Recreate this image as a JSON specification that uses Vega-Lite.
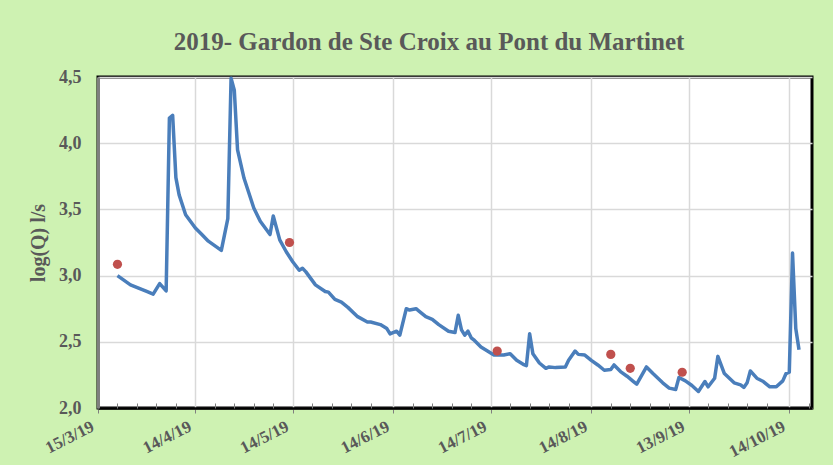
{
  "$schema": "https://vega.github.io/schema/vega-lite/v6.json",
  "width": 714,
  "height": 331,
  "autosize": {"type": "none"},
  "padding": {"left": 98, "top": 77, "right": 21, "bottom": 57},
  "background": "#cef2b2",
  "title": {
    "text": "2019- Gardon de Ste Croix au Pont du Martinet",
    "font": "Liberation Serif",
    "fontSize": 25,
    "fontWeight": "bold",
    "color": "#595959",
    "offset": 13,
    "dx": -26
  },
  "config": {
    "view": {"fill": "white", "stroke": "black", "strokeWidth": 3}
  },
  "datasets": {
    "flow": [
      {"date": "2019-03-21T00:00:00", "v": 3.00},
      {"date": "2019-03-25T00:00:00", "v": 2.93},
      {"date": "2019-03-30T00:00:00", "v": 2.88},
      {"date": "2019-04-01T00:00:00", "v": 2.86},
      {"date": "2019-04-03T00:00:00", "v": 2.94},
      {"date": "2019-04-05T00:00:00", "v": 2.885},
      {"date": "2019-04-06T00:00:00", "v": 4.19},
      {"date": "2019-04-07T00:00:00", "v": 4.21},
      {"date": "2019-04-08T00:00:00", "v": 3.74},
      {"date": "2019-04-09T00:00:00", "v": 3.61},
      {"date": "2019-04-11T00:00:00", "v": 3.46},
      {"date": "2019-04-14T00:00:00", "v": 3.36},
      {"date": "2019-04-16T00:00:00", "v": 3.31},
      {"date": "2019-04-18T00:00:00", "v": 3.26},
      {"date": "2019-04-22T00:00:00", "v": 3.19},
      {"date": "2019-04-24T00:00:00", "v": 3.43},
      {"date": "2019-04-25T00:00:00", "v": 4.49},
      {"date": "2019-04-26T00:00:00", "v": 4.40},
      {"date": "2019-04-27T00:00:00", "v": 3.95},
      {"date": "2019-04-29T00:00:00", "v": 3.735},
      {"date": "2019-05-02T00:00:00", "v": 3.51},
      {"date": "2019-05-04T00:00:00", "v": 3.41},
      {"date": "2019-05-07T00:00:00", "v": 3.31},
      {"date": "2019-05-08T00:00:00", "v": 3.45},
      {"date": "2019-05-10T00:00:00", "v": 3.27},
      {"date": "2019-05-12T00:00:00", "v": 3.18},
      {"date": "2019-05-14T00:00:00", "v": 3.105},
      {"date": "2019-05-16T00:00:00", "v": 3.04},
      {"date": "2019-05-17T00:00:00", "v": 3.055},
      {"date": "2019-05-18T00:00:00", "v": 3.03},
      {"date": "2019-05-21T00:00:00", "v": 2.93},
      {"date": "2019-05-24T00:00:00", "v": 2.88},
      {"date": "2019-05-25T00:00:00", "v": 2.875},
      {"date": "2019-05-27T00:00:00", "v": 2.82},
      {"date": "2019-05-29T00:00:00", "v": 2.80},
      {"date": "2019-05-31T00:00:00", "v": 2.76},
      {"date": "2019-06-03T00:00:00", "v": 2.69},
      {"date": "2019-06-06T00:00:00", "v": 2.65},
      {"date": "2019-06-07T00:00:00", "v": 2.65},
      {"date": "2019-06-10T00:00:00", "v": 2.63},
      {"date": "2019-06-12T00:00:00", "v": 2.60},
      {"date": "2019-06-13T00:00:00", "v": 2.56},
      {"date": "2019-06-15T00:00:00", "v": 2.58},
      {"date": "2019-06-16T00:00:00", "v": 2.55},
      {"date": "2019-06-18T00:00:00", "v": 2.75},
      {"date": "2019-06-19T00:00:00", "v": 2.74},
      {"date": "2019-06-21T00:00:00", "v": 2.75},
      {"date": "2019-06-22T00:00:00", "v": 2.73},
      {"date": "2019-06-24T00:00:00", "v": 2.69},
      {"date": "2019-06-26T00:00:00", "v": 2.67},
      {"date": "2019-06-28T00:00:00", "v": 2.63},
      {"date": "2019-07-01T00:00:00", "v": 2.58},
      {"date": "2019-07-03T00:00:00", "v": 2.57},
      {"date": "2019-07-04T00:00:00", "v": 2.70},
      {"date": "2019-07-05T00:00:00", "v": 2.59},
      {"date": "2019-07-06T00:00:00", "v": 2.55},
      {"date": "2019-07-07T00:00:00", "v": 2.58},
      {"date": "2019-07-08T00:00:00", "v": 2.53},
      {"date": "2019-07-09T00:00:00", "v": 2.51},
      {"date": "2019-07-11T00:00:00", "v": 2.46},
      {"date": "2019-07-13T00:00:00", "v": 2.43},
      {"date": "2019-07-15T00:00:00", "v": 2.40},
      {"date": "2019-07-18T00:00:00", "v": 2.40},
      {"date": "2019-07-20T00:00:00", "v": 2.41},
      {"date": "2019-07-22T00:00:00", "v": 2.36},
      {"date": "2019-07-24T00:00:00", "v": 2.33},
      {"date": "2019-07-25T00:00:00", "v": 2.32},
      {"date": "2019-07-26T00:00:00", "v": 2.56},
      {"date": "2019-07-27T00:00:00", "v": 2.41},
      {"date": "2019-07-29T00:00:00", "v": 2.34},
      {"date": "2019-07-31T00:00:00", "v": 2.30},
      {"date": "2019-08-01T00:00:00", "v": 2.31},
      {"date": "2019-08-03T00:00:00", "v": 2.305},
      {"date": "2019-08-06T00:00:00", "v": 2.31},
      {"date": "2019-08-07T00:00:00", "v": 2.36},
      {"date": "2019-08-09T00:00:00", "v": 2.43},
      {"date": "2019-08-10T00:00:00", "v": 2.405},
      {"date": "2019-08-12T00:00:00", "v": 2.40},
      {"date": "2019-08-14T00:00:00", "v": 2.36},
      {"date": "2019-08-16T00:00:00", "v": 2.325},
      {"date": "2019-08-18T00:00:00", "v": 2.285},
      {"date": "2019-08-20T00:00:00", "v": 2.29},
      {"date": "2019-08-21T00:00:00", "v": 2.325},
      {"date": "2019-08-23T00:00:00", "v": 2.275},
      {"date": "2019-08-25T00:00:00", "v": 2.24},
      {"date": "2019-08-27T00:00:00", "v": 2.20},
      {"date": "2019-08-28T00:00:00", "v": 2.18},
      {"date": "2019-08-31T00:00:00", "v": 2.31},
      {"date": "2019-09-02T00:00:00", "v": 2.26},
      {"date": "2019-09-05T00:00:00", "v": 2.19},
      {"date": "2019-09-07T00:00:00", "v": 2.15},
      {"date": "2019-09-09T00:00:00", "v": 2.14},
      {"date": "2019-09-10T00:00:00", "v": 2.23},
      {"date": "2019-09-12T00:00:00", "v": 2.205},
      {"date": "2019-09-14T00:00:00", "v": 2.17},
      {"date": "2019-09-16T00:00:00", "v": 2.125},
      {"date": "2019-09-18T00:00:00", "v": 2.20},
      {"date": "2019-09-19T00:00:00", "v": 2.16},
      {"date": "2019-09-21T00:00:00", "v": 2.225},
      {"date": "2019-09-22T00:00:00", "v": 2.39},
      {"date": "2019-09-24T00:00:00", "v": 2.26},
      {"date": "2019-09-27T00:00:00", "v": 2.19},
      {"date": "2019-09-29T00:00:00", "v": 2.175},
      {"date": "2019-09-30T00:00:00", "v": 2.155},
      {"date": "2019-10-01T00:00:00", "v": 2.19},
      {"date": "2019-10-02T00:00:00", "v": 2.28},
      {"date": "2019-10-04T00:00:00", "v": 2.225},
      {"date": "2019-10-06T00:00:00", "v": 2.20},
      {"date": "2019-10-08T00:00:00", "v": 2.16},
      {"date": "2019-10-10T00:00:00", "v": 2.16},
      {"date": "2019-10-12T00:00:00", "v": 2.205},
      {"date": "2019-10-13T00:00:00", "v": 2.26},
      {"date": "2019-10-14T00:00:00", "v": 2.27},
      {"date": "2019-10-15T00:00:00", "v": 3.17},
      {"date": "2019-10-16T00:00:00", "v": 2.60},
      {"date": "2019-10-17T00:00:00", "v": 2.44}
    ],
    "samples": [
      {"date": "2019-03-21T00:00:00", "v": 3.085},
      {"date": "2019-05-13T00:00:00", "v": 3.25},
      {"date": "2019-07-16T00:00:00", "v": 2.43},
      {"date": "2019-08-20T00:00:00", "v": 2.405},
      {"date": "2019-08-26T00:00:00", "v": 2.30},
      {"date": "2019-09-11T00:00:00", "v": 2.27}
    ]
  },
  "layer": [
    {
      "data": {"name": "flow"},
      "mark": {"type": "line", "color": "#4a7ebb", "strokeWidth": 3.5, "strokeJoin": "round"},
      "encoding": {
        "x": {
          "field": "date",
          "type": "temporal",
          "scale": {
            "domain": [
              {"year": 2019, "month": 3, "date": 15},
              {"year": 2019, "month": 10, "date": 21}
            ]
          },
          "axis": {
            "title": null,
            "values": [
              {"year": 2019, "month": 3, "date": 15},
              {"year": 2019, "month": 4, "date": 14},
              {"year": 2019, "month": 5, "date": 14},
              {"year": 2019, "month": 6, "date": 14},
              {"year": 2019, "month": 7, "date": 14},
              {"year": 2019, "month": 8, "date": 14},
              {"year": 2019, "month": 9, "date": 13},
              {"year": 2019, "month": 10, "date": 14}
            ],
            "format": "%-d/%-m/%y",
            "labelAngle": -27,
            "labelFont": "Liberation Serif",
            "labelFontSize": 17,
            "labelFontWeight": "bold",
            "labelColor": "#595959",
            "labelPadding": 5,
            "labelOffset": -9,
            "labelOverlap": false,
            "grid": true,
            "gridColor": "#d9d9d9",
            "gridWidth": 1.5,
            "domainColor": "#000000",
            "domainWidth": 2.5,
            "tickColor": "#7f7f7f",
            "tickSize": 5,
            "tickWidth": 1
          }
        },
        "y": {
          "field": "v",
          "type": "quantitative",
          "scale": {"domain": [2, 4.5], "nice": false, "zero": false},
          "axis": {
            "title": "log(Q) l/s",
            "titleFont": "Liberation Serif",
            "titleFontSize": 20,
            "titleFontWeight": "bold",
            "titleColor": "#595959",
            "titlePadding": 10,
            "values": [2, 2.5, 3, 3.5, 4, 4.5],
            "labelExpr": "replace(format(datum.value, '.1f'), '.', ',')",
            "labelFont": "Liberation Serif",
            "labelFontSize": 18,
            "labelFontWeight": "bold",
            "labelColor": "#595959",
            "labelPadding": 17,
            "ticks": false,
            "grid": true,
            "gridColor": "#d9d9d9",
            "gridWidth": 1.5,
            "domainColor": "#7f7f7f",
            "domainWidth": 3
          }
        }
      }
    },
    {
      "data": {"name": "samples"},
      "mark": {"type": "point", "filled": true, "color": "#c0504d", "opacity": 1, "size": 85},
      "encoding": {
        "x": {
          "field": "date",
          "type": "temporal",
          "axis": {
            "orient": "bottom",
            "title": null,
            "labels": false,
            "grid": false,
            "domain": false,
            "values": [
              {"year": 2019, "month": 3, "date": 21},
              {"year": 2019, "month": 3, "date": 27},
              {"year": 2019, "month": 4, "date": 2},
              {"year": 2019, "month": 4, "date": 8},
              {"year": 2019, "month": 4, "date": 20},
              {"year": 2019, "month": 4, "date": 26},
              {"year": 2019, "month": 5, "date": 2},
              {"year": 2019, "month": 5, "date": 8},
              {"year": 2019, "month": 5, "date": 20},
              {"year": 2019, "month": 5, "date": 26},
              {"year": 2019, "month": 6, "date": 1},
              {"year": 2019, "month": 6, "date": 7},
              {"year": 2019, "month": 6, "date": 20},
              {"year": 2019, "month": 6, "date": 26},
              {"year": 2019, "month": 7, "date": 2},
              {"year": 2019, "month": 7, "date": 8},
              {"year": 2019, "month": 7, "date": 20},
              {"year": 2019, "month": 7, "date": 26},
              {"year": 2019, "month": 8, "date": 1},
              {"year": 2019, "month": 8, "date": 7},
              {"year": 2019, "month": 8, "date": 20},
              {"year": 2019, "month": 8, "date": 26},
              {"year": 2019, "month": 9, "date": 1},
              {"year": 2019, "month": 9, "date": 7},
              {"year": 2019, "month": 9, "date": 19},
              {"year": 2019, "month": 9, "date": 25},
              {"year": 2019, "month": 10, "date": 1},
              {"year": 2019, "month": 10, "date": 7},
              {"year": 2019, "month": 10, "date": 20}
            ],
            "tickColor": "#7f7f7f",
            "tickSize": -5,
            "tickWidth": 1
          }
        },
        "y": {"field": "v", "type": "quantitative"}
      }
    }
  ],
  "resolve": {"axis": {"x": "independent"}}
}
